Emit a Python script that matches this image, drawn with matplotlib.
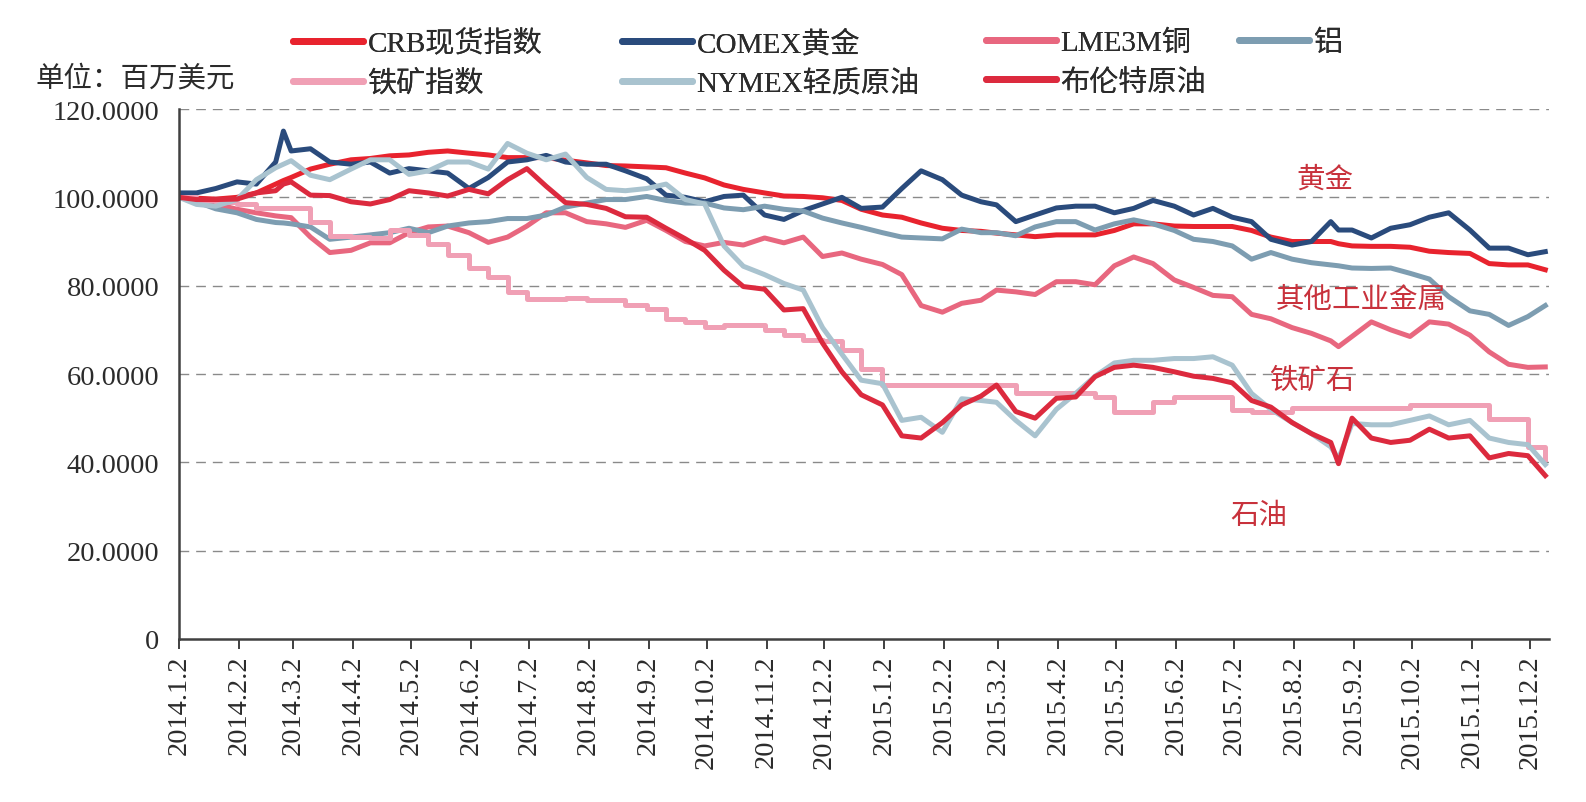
import datetime as dt

import matplotlib
matplotlib.use("Agg")
import matplotlib.pyplot as plt
import matplotlib.dates as mdates
from matplotlib.lines import Line2D

plt.rcParams["font.family"] = ["Liberation Serif", "Noto Sans CJK SC"]

# sample dates (roughly every 10 days, plus two spike days), 2014.1.2 = 100
DATES = [
    "2014-01-02", "2014-01-11", "2014-01-21", "2014-02-01", "2014-02-11", "2014-02-21",
    "2014-02-25",
    "2014-03-01", "2014-03-11", "2014-03-21", "2014-04-01", "2014-04-11", "2014-04-21",
    "2014-05-01", "2014-05-11", "2014-05-21", "2014-06-01", "2014-06-11", "2014-06-21",
    "2014-07-01", "2014-07-11", "2014-07-21", "2014-08-01", "2014-08-11", "2014-08-21",
    "2014-09-01", "2014-09-11", "2014-09-21", "2014-10-01", "2014-10-11", "2014-10-21",
    "2014-11-01", "2014-11-11", "2014-11-21", "2014-12-01", "2014-12-11", "2014-12-21",
    "2015-01-01", "2015-01-11", "2015-01-21", "2015-02-01", "2015-02-11", "2015-02-21",
    "2015-03-01", "2015-03-11", "2015-03-21", "2015-04-01", "2015-04-11", "2015-04-21",
    "2015-05-01", "2015-05-11", "2015-05-21", "2015-06-01", "2015-06-11", "2015-06-21",
    "2015-07-01", "2015-07-11", "2015-07-21", "2015-08-01", "2015-08-11", "2015-08-21",
    "2015-08-25",
    "2015-09-01", "2015-09-11", "2015-09-21", "2015-10-01", "2015-10-11", "2015-10-21",
    "2015-11-01", "2015-11-11", "2015-11-21", "2015-12-01", "2015-12-10",
]

crb = [100, 99.8, 99.6, 100, 101, 103, 103.8, 104.5, 106.4, 107.5, 108.5, 108.8, 109.4,
       109.6, 110.2, 110.5, 110, 109.6, 109, 109, 109, 108.4, 107.8, 107.2, 107.1,
       106.9, 106.7, 105.5, 104.4, 102.8, 101.8, 101, 100.3, 100.2, 99.9, 99.3, 97.3,
       96, 95.5, 94.2, 93, 92.5, 92.3, 91.9, 91.5, 91.1, 91.5, 91.5, 91.5,
       92.5, 94, 94, 93.5, 93.4, 93.4, 93.4, 92.5, 91, 90, 90, 90, 89.5,
       89, 88.9, 88.9, 88.7, 87.8, 87.5, 87.3, 85, 84.7, 84.7, 83.6]

gold = [101, 101, 102, 103.5, 103, 108, 115, 110.5, 111, 108, 107.5, 108, 105.5,
        106.5, 106, 105.5, 102, 104.5, 108, 108.5, 109.5, 108, 107.5, 107.5, 106,
        104.2, 100.5, 100, 99, 100.2, 100.5, 96, 95, 97, 98.5, 100, 97.5,
        97.8, 102, 106, 104, 100.5, 99, 98.3, 94.5, 96, 97.6, 98, 98,
        96.5, 97.5, 99.3, 98, 96, 97.5, 95.5, 94.5, 90.5, 89.2, 90, 94.5, 92.6,
        92.6, 90.8, 93, 93.8, 95.5, 96.5, 92.6, 88.5, 88.5, 87, 87.7]

copper = [100, 99.5, 98.5, 97.3, 96.5, 95.8, 95.6, 95.4, 91, 87.5, 88, 89.7, 89.7,
          92, 93.3, 93.5, 92, 89.8, 91, 93.5, 96.5, 96.5, 94.5, 94, 93.2,
          94.8, 92.5, 90, 89, 89.8, 89.2, 90.8, 89.7, 91, 86.6, 87.4, 86,
          84.8, 82.5, 75.5, 74, 76, 76.7, 79, 78.6, 78, 80.9, 80.9, 80.2,
          84.5, 86.5, 85, 81.3, 79.6, 77.8, 77.5, 73.5, 72.5, 70.5, 69.2, 67.5, 66.2,
          68.5, 71.8, 70, 68.5, 71.8, 71.3, 68.8, 65, 62.2, 61.5, 61.6]

aluminium = [100, 99, 97.4, 96.5, 95, 94.3, 94.2, 94, 93.3, 90.5, 91, 91.5, 92,
             93, 92, 93.5, 94.2, 94.5, 95.2, 95.2, 96, 97.8, 98.7, 99.5, 99.5,
             100.2, 99.3, 98.7, 98.7, 97.6, 97.2, 98, 97.3, 96.9, 95.3, 94.2, 93.2,
             92, 91, 90.8, 90.6, 92.8, 92, 92, 91.3, 93.3, 94.5, 94.5, 92.6,
             94, 94.9, 94, 92.5, 90.5, 90, 89, 86, 87.5, 86, 85.2, 84.7, 84.5,
             84, 83.9, 84, 82.8, 81.5, 77.5, 74.3, 73.5, 71, 73, 75.5]

iron_ore = [100, 99.5, 99, 98.5, 97.5, 97.5, 97.5, 97.5, 94.5, 91.2, 91, 90.8, 92.5,
            91.5, 89.5, 87, 84, 82, 78.5, 77, 77, 77.1, 76.7, 76.7, 75.6,
            74.8, 72.5, 71.8, 70.7, 71.1, 71.1, 70, 68.8, 67.7, 67.5, 65.4, 61.2,
            57.4, 57.4, 57.4, 57.4, 57.4, 57.4, 57.4, 55.6, 55.6, 55.6, 55.6, 54.8,
            51.4, 51.4, 53.7, 54.8, 54.8, 54.8, 51.8, 51.4, 51.4, 52.2, 52.2, 52.2, 52.2,
            52.2, 52.2, 52.2, 52.9, 52.9, 52.9, 52.9, 49.9, 49.9, 43.5, 40.8]

wti = [100, 98.4, 98, 99.5, 104, 106.7, 107.5, 108.3, 105, 104, 106.4, 108.5, 108.5,
       105.2, 106, 108, 108, 106.4, 112.2, 110, 108.5, 109.8, 104.5, 101.8, 101.5,
       102, 103, 99.5, 98.5, 89, 84.4, 82.5, 80.5, 79, 70.5, 64.5, 58.6,
       57.8, 49.5, 50.2, 46.8, 54.4, 54, 53.6, 49.5, 46, 52, 55.6, 59.5,
       62.5, 63.1, 63.1, 63.5, 63.5, 63.9, 62, 55.6, 52, 49, 46.5, 43.5, 40.8,
       48.8, 48.5, 48.5, 49.5, 50.5, 48.5, 49.5, 45.5, 44.5, 44, 39.5]

brent = [100, 99.5, 99.5, 99.6, 101, 101.5, 103, 103.5, 100.5, 100.4, 99, 98.5, 99.5,
         101.5, 101, 100.3, 101.8, 100.8, 104, 106.5, 102.5, 98.8, 98.4, 97.5, 95.6,
         95.5, 93, 90.6, 88, 83.5, 79.8, 79.2, 74.5, 74.8, 67, 60.5, 55.3,
         53, 46, 45.5, 49, 53, 55, 57.5, 51.5, 50, 54.5, 54.8, 59.4,
         61.5, 62, 61.5, 60.5, 59.5, 59, 58, 54, 52.5, 49, 46.5, 44.5, 39.7,
         50, 45.5, 44.5, 45, 47.5, 45.5, 46, 41, 42, 41.5, 37]

SERIES = [
    ("CRB现货指数", crb, "#E8232E"),
    ("COMEX黄金", gold, "#2A4B7C"),
    ("LME3M铜", copper, "#E8677F"),
    ("铝", aluminium, "#7D9DB1"),
    ("铁矿指数", iron_ore, "#F0A0B5"),
    ("NYMEX轻质原油", wti, "#A9C3CF"),
    ("布伦特原油", brent, "#DC2A3E"),
]

Y_TICKS = [0, 20, 40, 60, 80, 100, 120]
Y_LABELS = ["0", "20.0000", "40.0000", "60.0000", "80.0000", "100.0000", "120.0000"]

NOTES = [
    ("黄金", "2015-08-18", 104.0),
    ("其他工业金属", "2015-09-06", 76.7),
    ("铁矿石", "2015-08-11", 58.4),
    ("石油", "2015-07-15", 27.8),
]

TEXT_COLOR = "#2b2b2b"
NOTE_COLOR = "#C8323C"
FS = 20.5


def main():
    dates = [dt.date.fromisoformat(d) for d in DATES]

    fig = plt.figure(figsize=(15.86, 8.03), dpi=100)
    ax = fig.add_axes([0.1129, 0.2030, 0.8635, 0.6600])

    handles = {}
    for name, values, color in SERIES:
        style = "steps-post" if name == "铁矿指数" else "default"
        ax.plot(dates, values, color=color, lw=3.6,
                solid_joinstyle="round", drawstyle=style)
        handles[name] = Line2D([], [], color=color, lw=5, solid_capstyle="round")

    start = mdates.date2num(dt.date(2014, 1, 2))
    ax.set_xlim(start, start + 708.7)
    ax.set_ylim(0, 120)

    ticks = [dt.date(2014 + (m // 12), m % 12 + 1, 2) for m in range(24)]
    ax.set_xticks(ticks)
    ax.set_xticklabels([f"{t.year}.{t.month}.2" for t in ticks], rotation=90,
                       fontsize=FS, color=TEXT_COLOR)
    ax.tick_params(axis="x", length=7, width=1.4, color="#404040", pad=4)

    ax.set_yticks(Y_TICKS)
    ax.set_yticklabels(Y_LABELS, fontsize=FS, color=TEXT_COLOR)
    ax.tick_params(axis="y", length=0, pad=14)

    for y in Y_TICKS[1:]:
        ax.axhline(y, color="#8a8a8a", lw=1.0, ls=(0, (7, 5)), zorder=0)

    for side in ("top", "right"):
        ax.spines[side].set_visible(False)
    for side in ("left", "bottom"):
        ax.spines[side].set_linewidth(1.8)
        ax.spines[side].set_color("#404040")

    for text, day, value in NOTES:
        ax.text(dt.date.fromisoformat(day), value, text, color=NOTE_COLOR,
                fontsize=FS, ha="center", va="center")

    fig.text(35 / 1586, 1 - 79 / 803, "单位：百万美元", fontsize=FS,
             color=TEXT_COLOR, ha="left", va="center")

    # legend laid out as 4 columns, like the original
    columns = [
        (293, ["CRB现货指数", "铁矿指数"]),
        (622, ["COMEX黄金", "NYMEX轻质原油"]),
        (986, ["LME3M铜", "布伦特原油"]),
        (1239, ["铝"]),
    ]
    for x, names in columns:
        leg = fig.legend([handles[n] for n in names], names,
                         loc="upper left", bbox_to_anchor=(x / 1586, 1 - 31 / 803),
                         frameon=False, fontsize=21, handlelength=2.4,
                         handletextpad=0.15, borderpad=0, borderaxespad=0,
                         labelspacing=0.42, labelcolor=TEXT_COLOR)
        fig.add_artist(leg)

    fig.savefig("out.png", dpi=100)
    plt.close(fig)


if __name__ == "__main__":
    main()
